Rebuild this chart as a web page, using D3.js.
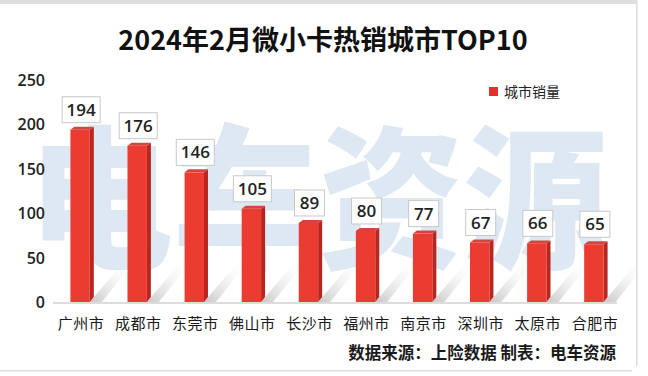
<!DOCTYPE html>
<html>
<head>
<meta charset="utf-8">
<script src="https://cdn.jsdelivr.net/npm/d3@7"></script>
<style>
  body { margin: 0; background: #fff; }
  svg { display: block; font-family: "Noto Sans CJK SC", "Noto Sans", sans-serif; }
</style>
</head>
<body>
<div class="thegraph"></div>
<script>
var cities = ["广州市", "成都市", "东莞市", "佛山市", "长沙市", "福州市", "南京市", "深圳市", "太原市", "合肥市"];
var sales = [194, 176, 146, 105, 89, 80, 77, 67, 66, 65];
var yTicks = [0, 50, 100, 150, 200, 250];
var title = "2024年2月微小卡热销城市TOP10";
var legendName = "城市销量";
var source = "数据来源：上险数据 制表：电车资源";

var w = 648, h = 376;
var svg = d3.select(".thegraph").append("svg")
	.attr("width", w)
	.attr("height", h);

var defs = svg.append("defs");
var sg = defs.append("linearGradient").attr("id", "shadow")
	.attr("x1", "0").attr("y1", "1").attr("x2", "1").attr("y2", "0");
sg.append("stop").attr("offset", "0").attr("stop-color", "#9a9a9a").attr("stop-opacity", 0.55);
sg.append("stop").attr("offset", "1").attr("stop-color", "#ffffff").attr("stop-opacity", 0);

// frame
svg.append("rect").attr("x", 0).attr("y", 0).attr("width", 637).attr("height", 4).attr("fill", "#dedede");
svg.append("rect").attr("x", 636).attr("y", 0).attr("width", 1.5).attr("height", 366).attr("fill", "#dcdcdc");
svg.append("rect").attr("x", 0).attr("y", 370).attr("width", 632).attr("height", 1.5).attr("fill", "#dcdcdc");

// watermark (logo text behind the chart)
svg.append("text")
	.attr("x", 318).attr("y", 256)
	.attr("text-anchor", "middle")
	.attr("font-size", 155)
	.attr("font-weight", 900)
	.attr("textLength", 580)
	.attr("lengthAdjust", "spacingAndGlyphs")
	.attr("fill", "#dde8f2")
	.text("电车资源");

var x = d3.scaleBand().domain(cities).range([51, 623]).paddingInner(0.66).paddingOuter(0.34);
var y = d3.scaleLinear().domain([0, 250]).range([302, 80]);
var bw = x.bandwidth();
var dx = 4, dy = 3;

// title
svg.append("text")
	.attr("x", 323).attr("y", 50)
	.attr("text-anchor", "middle")
	.attr("font-size", 27)
	.attr("font-weight", "bold")
	.attr("fill", "#111")
	.text(title);

// y axis labels
svg.selectAll(".ytick")
	.data(yTicks)
	.enter()
	.append("text")
	.attr("class", "ytick")
	.attr("x", 45)
	.attr("y", function(d) { return y(d) + 6; })
	.attr("text-anchor", "end")
	.attr("font-size", 16)
	.attr("font-family", "'Open Sans', 'Noto Sans', sans-serif")
	.attr("font-weight", 600)
	.attr("fill", "#222")
	.text(function(d) { return d; });

// shadows behind bars
svg.selectAll(".shadow")
	.data(sales)
	.enter()
	.append("polygon")
	.attr("class", "shadow")
	.attr("points", function(d, i) {
		var x0 = x(cities[i]) + bw, b = y(0);
		var sh = Math.min(y(0) - y(d), 40);
		return [[x0, b], [x0 + 34, b - sh], [x0 + 44, b - sh], [x0 + 12, b]].join(" ");
	})
	.attr("fill", "url(#shadow)");

// baseline
svg.append("line")
	.attr("x1", 53).attr("x2", 617)
	.attr("y1", y(0) + 1).attr("y2", y(0) + 1)
	.attr("stroke", "#d0d0d0").attr("stroke-width", 1.5);

// bars: side, top, front
svg.selectAll(".side")
	.data(sales)
	.enter()
	.append("polygon")
	.attr("class", "side")
	.attr("points", function(d, i) {
		var x0 = x(cities[i]) + bw;
		return [[x0, y(d)], [x0 + dx, y(d) - dy], [x0 + dx, y(0) - dy - 2], [x0, y(0)]].join(" ");
	})
	.attr("fill", "#b7271f");

svg.selectAll(".top")
	.data(sales)
	.enter()
	.append("polygon")
	.attr("class", "top")
	.attr("points", function(d, i) {
		var x0 = x(cities[i]);
		return [[x0, y(d)], [x0 + dx, y(d) - dy], [x0 + bw + dx, y(d) - dy], [x0 + bw, y(d)]].join(" ");
	})
	.attr("fill", "#d2463d");

svg.selectAll(".bar")
	.data(sales)
	.enter()
	.append("rect")
	.attr("class", "bar")
	.attr("x", function(d, i) { return x(cities[i]); })
	.attr("y", function(d) { return y(d); })
	.attr("width", bw)
	.attr("height", function(d) { return y(0) - y(d); })
	.attr("fill", "#ec3b30");

// value boxes
var boxes = svg.selectAll(".vbox")
	.data(sales)
	.enter()
	.append("g")
	.attr("class", "vbox")
	.attr("transform", function(d, i) {
		return "translate(" + (x(cities[i]) + bw / 2 + 1) + "," + (y(d) - 20) + ")";
	});
boxes.append("rect")
	.attr("x", function(d) { return d >= 100 ? -19 : -15; })
	.attr("y", -13)
	.attr("width", function(d) { return d >= 100 ? 38 : 30; })
	.attr("height", 26)
	.attr("fill", "#fff")
	.attr("stroke", "#c8c8c8")
	.attr("stroke-width", 1);
boxes.append("text")
	.attr("text-anchor", "middle")
	.attr("y", 6)
	.attr("font-size", 17)
	.attr("font-family", "'Open Sans', 'Noto Sans', sans-serif")
	.attr("font-weight", 600)
	.attr("fill", "#222")
	.text(function(d) { return d; });

// x labels
svg.selectAll(".xlab")
	.data(cities)
	.enter()
	.append("text")
	.attr("class", "xlab")
	.attr("x", function(d) { return x(d) + bw / 2 + 1; })
	.attr("y", 329)
	.attr("text-anchor", "middle")
	.attr("font-size", 15)
	.attr("letter-spacing", 0.5)
	.attr("fill", "#1a1a1a")
	.text(function(d) { return d; });

// legend
svg.append("rect").attr("x", 489).attr("y", 87).attr("width", 9).attr("height", 9).attr("fill", "#e4302a");
svg.append("text")
	.attr("x", 504).attr("y", 97)
	.attr("font-size", 14)
	.attr("fill", "#222")
	.text(legendName);

// source
svg.append("text")
	.attr("x", 616).attr("y", 359)
	.attr("text-anchor", "end")
	.attr("font-size", 16.5)
	.attr("font-weight", "bold")
	.attr("fill", "#1a1a1a")
	.text(source);
</script>
</body>
</html>
